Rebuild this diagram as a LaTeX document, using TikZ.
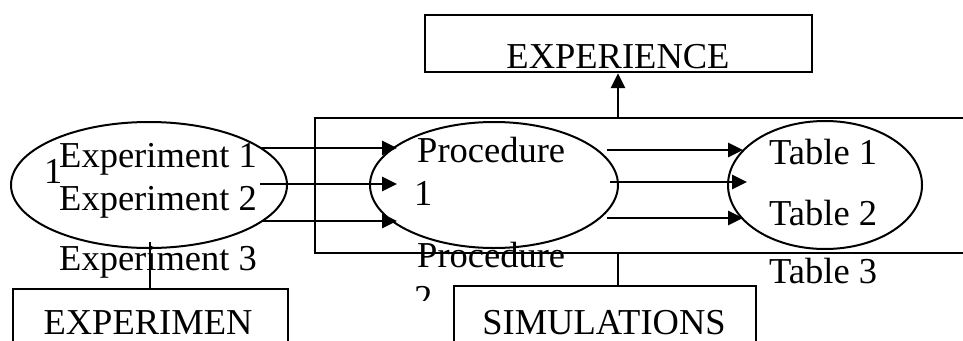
\documentclass[tikz,border=0pt]{standalone}
\usepackage{fontspec}
\setmainfont{Liberation Serif}
\usetikzlibrary{shapes.geometric,arrows.meta}
\begin{document}
\begin{tikzpicture}[x=1pt,y=-1pt,
  txt/.style={font=\fontsize{36.5}{40}\selectfont, inner sep=0, anchor=base west},
  oval/.style={draw, ellipse, line width=2pt, inner sep=0},
  box/.style={draw, line width=2.2pt, inner sep=0},
  arr/.style={line width=2.8pt, -{Triangle[length=15pt,width=14pt]}},
  link/.style={line width=1.8pt}]
\useasboundingbox (0,0) rectangle (963,340);
\clip (0,0) rectangle (963,340);

% frame and boxes
\node[box, minimum width=700, minimum height=135, anchor=north west] (frame) at (314,117) {};
\node[box, minimum width=387, minimum height=57] (expc) at (618.5,43.5) {};
\node[txt, anchor=base] (expct) at (618,68) {EXPERIENCE};
\node[box, minimum width=302, minimum height=100, anchor=north west] (sim) at (453,285) {};
\node[txt, anchor=base] (simt) at (604,334) {SIMULATIONS};
\node[box, minimum width=275, minimum height=100, anchor=north west] (expm) at (12,288) {};
\node[txt, anchor=base] (expmt) at (148,334) {EXPERIMEN};

% ellipses
\node[oval, minimum width=276, minimum height=126] (exp) at (149,185) {};
\node[oval, minimum width=248, minimum height=126] (proc) at (494,185) {};
\node[oval, minimum width=194, minimum height=128] (tab) at (825,185) {};

% texts
\node[txt] (one) at (44,183) {1};
\node[txt] (e1) at (59,167) {Experiment 1};
\node[txt] (e2) at (59,210) {Experiment 2};
\node[txt] (e3) at (59,270) {Experiment 3};
\node[txt] (p1) at (417,162) {Procedure};
\node[txt] (p1n) at (414,205) {1};
\node[txt] (p2) at (417,267) {Procedure};
\begin{scope}
\clip (380,255) rectangle (460,300);
\node[txt] (p2n) at (414,310) {2};
\end{scope}
\node[txt] (t1) at (769,164) {Table 1};
\node[txt] (t2) at (769,225) {Table 2};
\node[txt] (t3) at (769,283) {Table 3};

% connector endpoints
\coordinate (a1) at (260,148); \coordinate (b1) at (397,148);
\coordinate (a2) at (260,184); \coordinate (b2) at (397,184);
\coordinate (a3) at (263,221); \coordinate (b3) at (397,221);
\coordinate (c1) at (607,150); \coordinate (d1) at (743,150);
\coordinate (c2) at (610,182); \coordinate (d2) at (747,182);
\coordinate (c3) at (607,218); \coordinate (d3) at (743,218);
\coordinate (up) at (618,117);
\coordinate (dn) at (618,252);
\coordinate (el) at (150,242);

\draw[arr] (a1) -- (b1);
\draw[arr] (a2) -- (b2);
\draw[arr] (a3) -- (b3);
\draw[arr] (c1) -- (d1);
\draw[arr] (c2) -- (d2);
\draw[arr] (c3) -- (d3);
\draw[arr] (up) -- (up |- expc.south);
\draw[link] (dn) -- (dn |- sim.north);
\draw[link] (el) -- (el |- expm.north);
\end{tikzpicture}
\end{document}
